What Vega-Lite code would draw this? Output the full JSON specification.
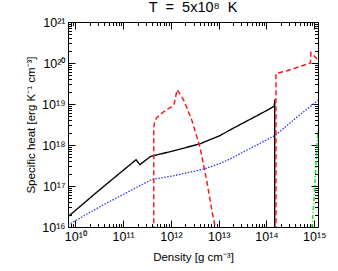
{
  "$schema": "https://vega.github.io/schema/vega-lite/v6.json",
  "autosize": "none",
  "width": 250,
  "height": 205,
  "padding": {"left": 68, "top": 22, "right": 20, "bottom": 44},
  "background": "white",
  "config": {
    "view": {"stroke": null},
    "font": "Liberation Sans",
    "axis": {"grid": false, "domainColor": "black", "tickColor": "black", "labelColor": "black", "titleColor": "black", "labelFont": "Liberation Sans", "titleFont": "Liberation Sans", "labelFontSize": 12.5, "titleFontSize": 11.5, "titleFontWeight": "normal", "labelOverlap": false, "labelFlush": false, "labelBound": false}
  },
  "title": {"text": "T\u00a0\u00a0=\u00a0\u00a05x10⁸\u00a0\u00a0K", "fontSize": 14.5, "fontWeight": "normal", "font": "Liberation Sans", "color": "black", "baseline": "alphabetic", "offset": -10},
  "data": {"values": [
    {"series": "total", "seg": "a", "rho": 7.0e9, "c": 1.78e16},
    {"series": "total", "seg": "a", "rho": 3.16e10, "c": 7.94e16},
    {"series": "total", "seg": "a", "rho": 1.86e11, "c": 4.37e17},
    {"series": "total", "seg": "a", "rho": 2.24e11, "c": 3.31e17},
    {"series": "total", "seg": "a", "rho": 3.72e11, "c": 5.25e17},
    {"series": "total", "seg": "a", "rho": 1.15e12, "c": 7.24e17},
    {"series": "total", "seg": "a", "rho": 4.07e12, "c": 1.07e18},
    {"series": "total", "seg": "a", "rho": 1.07e13, "c": 1.70e18},
    {"series": "total", "seg": "a", "rho": 1.74e13, "c": 2.34e18},
    {"series": "total", "seg": "a", "rho": 8.71e13, "c": 6.31e18},
    {"series": "total", "seg": "a", "rho": 1.46e14, "c": 8.9e18},
    {"series": "total", "seg": "a", "rho": 1.49e14, "c": 1.29e19},
    {"series": "total", "seg": "a", "rho": 1.49e14, "c": 5e15},
    {"series": "ion", "seg": "a", "rho": 7.0e9, "c": 1.12e16},
    {"series": "ion", "seg": "a", "rho": 3.31e10, "c": 3.16e16},
    {"series": "ion", "seg": "a", "rho": 3.98e11, "c": 1.45e17},
    {"series": "ion", "seg": "a", "rho": 1.15e12, "c": 1.78e17},
    {"series": "ion", "seg": "a", "rho": 4.79e12, "c": 2.57e17},
    {"series": "ion", "seg": "a", "rho": 1.07e13, "c": 3.55e17},
    {"series": "ion", "seg": "a", "rho": 1.74e13, "c": 4.57e17},
    {"series": "ion", "seg": "a", "rho": 5.37e13, "c": 9.12e17},
    {"series": "ion", "seg": "a", "rho": 1.51e14, "c": 1.70e18},
    {"series": "ion", "seg": "a", "rho": 4.37e14, "c": 4.79e18},
    {"series": "ion", "seg": "a", "rho": 1.2e15, "c": 1.23e19},
    {"series": "neutron", "seg": "a", "rho": 4.37e11, "c": 5e15},
    {"series": "neutron", "seg": "a", "rho": 4.37e11, "c": 2.69e18},
    {"series": "neutron", "seg": "a", "rho": 4.6e11, "c": 3.8e18},
    {"series": "neutron", "seg": "a", "rho": 5.13e11, "c": 4.79e18},
    {"series": "neutron", "seg": "a", "rho": 7.59e11, "c": 6.92e18},
    {"series": "neutron", "seg": "a", "rho": 1.15e12, "c": 9.33e18},
    {"series": "neutron", "seg": "a", "rho": 1.35e12, "c": 2.24e19},
    {"series": "neutron", "seg": "a", "rho": 1.86e12, "c": 1.23e19},
    {"series": "neutron", "seg": "a", "rho": 2.75e12, "c": 3.98e18},
    {"series": "neutron", "seg": "a", "rho": 4.07e12, "c": 8.71e17},
    {"series": "neutron", "seg": "a", "rho": 5.62e12, "c": 1.35e17},
    {"series": "neutron", "seg": "a", "rho": 7.24e12, "c": 2.45e16},
    {"series": "neutron", "seg": "a", "rho": 8.51e12, "c": 9.5e15},
    {"series": "neutron", "seg": "b", "rho": 1.58e14, "c": 5e15},
    {"series": "neutron", "seg": "b", "rho": 1.58e14, "c": 5.5e19},
    {"series": "neutron", "seg": "b", "rho": 2.69e14, "c": 6.46e19},
    {"series": "neutron", "seg": "b", "rho": 8.32e14, "c": 1.0e20},
    {"series": "neutron", "seg": "b", "rho": 8.51e14, "c": 1.78e20},
    {"series": "neutron", "seg": "b", "rho": 1.2e15, "c": 1.2e20},
    {"series": "proton", "seg": "a", "rho": 8.91e14, "c": 9.5e15},
    {"series": "proton", "seg": "a", "rho": 9.77e14, "c": 3.63e16},
    {"series": "proton", "seg": "a", "rho": 1.05e15, "c": 1.62e17},
    {"series": "proton", "seg": "a", "rho": 1.15e15, "c": 1.07e18},
    {"series": "proton", "seg": "a", "rho": 1.2e15, "c": 2.24e18}
  ]},
  "resolve": {"axis": {"x": "independent", "y": "independent"}},
  "layer": [
    {
      "mark": {"type": "line", "clip": true},
      "encoding": {
        "x": {"field": "rho", "type": "quantitative", "sort": null,
          "scale": {"type": "log", "domain": [7e9, 1.2e15], "nice": false},
          "axis": {"orient": "bottom", "title": "Density [g cm⁻³]", "titlePadding": 5,
            "values": [7e9,8e9,9e9,1e10,2e10,3e10,4e10,5e10,6e10,7e10,8e10,9e10,1e11,2e11,3e11,4e11,5e11,6e11,7e11,8e11,9e11,1e12,2e12,3e12,4e12,5e12,6e12,7e12,8e12,9e12,1e13,2e13,3e13,4e13,5e13,6e13,7e13,8e13,9e13,1e14,2e14,3e14,4e14,5e14,6e14,7e14,8e14,9e14,1e15],
            "tickSize": {"condition": {"test": "abs(log(datum.value)/LN10 - round(log(datum.value)/LN10)) < 0.01", "value": -7}, "value": -3.5},
            "labelPadding": 10,
            "labelExpr": "abs(log(datum.value)/LN10 - round(log(datum.value)/LN10)) < 0.01 ? '10' + ['⁰','¹','²','³','⁴','⁵','⁶','⁷','⁸','⁹'][floor(round(log(datum.value)/LN10)/10)] + ['⁰','¹','²','³','⁴','⁵','⁶','⁷','⁸','⁹'][round(log(datum.value)/LN10)%10] : ''"}},
        "y": {"field": "c", "type": "quantitative",
          "scale": {"type": "log", "domain": [1e16, 1e21], "nice": false},
          "axis": {"orient": "left", "title": "Specific heat [erg K⁻¹ cm⁻³]", "titlePadding": 5,
            "values": [1e16,2e16,3e16,4e16,5e16,6e16,7e16,8e16,9e16,1e17,2e17,3e17,4e17,5e17,6e17,7e17,8e17,9e17,1e18,2e18,3e18,4e18,5e18,6e18,7e18,8e18,9e18,1e19,2e19,3e19,4e19,5e19,6e19,7e19,8e19,9e19,1e20,2e20,3e20,4e20,5e20,6e20,7e20,8e20,9e20,1e21],
            "tickSize": {"condition": {"test": "abs(log(datum.value)/LN10 - round(log(datum.value)/LN10)) < 0.01", "value": -7}, "value": -3.5},
            "labelPadding": 10,
            "labelExpr": "abs(log(datum.value)/LN10 - round(log(datum.value)/LN10)) < 0.01 ? '10' + ['⁰','¹','²','³','⁴','⁵','⁶','⁷','⁸','⁹'][floor(round(log(datum.value)/LN10)/10)] + ['⁰','¹','²','³','⁴','⁵','⁶','⁷','⁸','⁹'][round(log(datum.value)/LN10)%10] : ''"}},
        "color": {"field": "series", "type": "nominal", "legend": null,
          "scale": {"domain": ["ion", "total", "neutron", "proton"], "range": ["#3030ff", "#000000", "#ff1010", "#10ee10"]}},
        "strokeDash": {"field": "series", "type": "nominal", "legend": null,
          "scale": {"domain": ["ion", "total", "neutron", "proton"], "range": [[1.5, 1.5], [1, 0], [5, 3], [4, 2, 1, 2]]}},
        "strokeWidth": {"field": "series", "type": "nominal", "legend": null,
          "scale": {"domain": ["ion", "total", "neutron", "proton"], "range": [1.3, 1.5, 2, 1.3]}},
        "detail": {"field": "seg", "type": "nominal"},
        "order": {"field": "series", "type": "nominal"}
      }
    },
    {
      "mark": {"type": "point", "opacity": 0},
      "encoding": {
        "x": {"field": "rho", "type": "quantitative",
          "axis": {"orient": "top", "title": null, "labels": false,
            "values": [7e9,8e9,9e9,1e10,2e10,3e10,4e10,5e10,6e10,7e10,8e10,9e10,1e11,2e11,3e11,4e11,5e11,6e11,7e11,8e11,9e11,1e12,2e12,3e12,4e12,5e12,6e12,7e12,8e12,9e12,1e13,2e13,3e13,4e13,5e13,6e13,7e13,8e13,9e13,1e14,2e14,3e14,4e14,5e14,6e14,7e14,8e14,9e14,1e15],
            "tickSize": {"condition": {"test": "abs(log(datum.value)/LN10 - round(log(datum.value)/LN10)) < 0.01", "value": -7}, "value": -3.5}}},
        "y": {"field": "c", "type": "quantitative",
          "axis": {"orient": "right", "title": null, "labels": false,
            "values": [1e16,2e16,3e16,4e16,5e16,6e16,7e16,8e16,9e16,1e17,2e17,3e17,4e17,5e17,6e17,7e17,8e17,9e17,1e18,2e18,3e18,4e18,5e18,6e18,7e18,8e18,9e18,1e19,2e19,3e19,4e19,5e19,6e19,7e19,8e19,9e19,1e20,2e20,3e20,4e20,5e20,6e20,7e20,8e20,9e20,1e21],
            "tickSize": {"condition": {"test": "abs(log(datum.value)/LN10 - round(log(datum.value)/LN10)) < 0.01", "value": -7}, "value": -3.5}}}
      }
    }
  ]
}
